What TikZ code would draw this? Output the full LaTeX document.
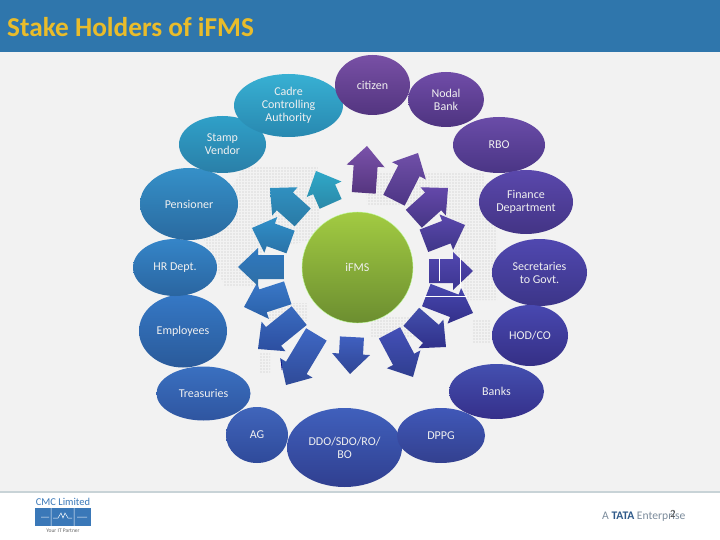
\documentclass[tikz,border=0pt]{standalone}
\usepackage{fontspec}
\setmainfont{Carlito}
\usetikzlibrary{shapes.geometric,patterns.meta}
\definecolor{headerblue}{HTML}{2F76AC}
\definecolor{titlegold}{HTML}{E9BC2B}
\definecolor{logoblue}{HTML}{3A78B8}
\definecolor{tatagrey}{HTML}{7C8C9C}
\definecolor{tatanavy}{HTML}{2F5A8A}
\tikzset{
    holder/.style={ellipse,shade,inner sep=0pt,align=center,text=white!94!black,font=\fontsize{12}{13}\selectfont},
    hub/.style={circle,shade,draw=lime!50!green!40!white,line width=0.4pt,inner sep=0pt,text=white!94!black,font=\fontsize{12}{13}\selectfont},
    mapdots/.style={pattern={Dots[radius=0.85pt,distance=3pt]},pattern color=black!14},
    blockarrow/.style={shade,draw=none}
}
\begin{document}
\begin{tikzpicture}[x=1pt,y=-1pt]
    \useasboundingbox (0,0) rectangle (720,540);
    % slide background, header and footer
    \fill [black!5] (0,0) rectangle (720,540);
    \fill [headerblue] (0,0) rectangle (720,52);
    \fill [fill=white] (0,492) rectangle (720,540);
    \fill [fill=cyan!30!black!25] (0,491) rectangle (720,493);
    \node (title) [anchor=west,inner sep=0pt,text=titlegold,font=\fontsize{27.3}{29}\selectfont\bfseries] at (7,27) {Stake Holders of iFMS};
    % world map behind the arrows
    \path [mapdots] (243,167) -- (318,167) -- (320,240) -- (262,248) -- (258,287) -- (225,287) -- (204,240) -- cycle;
    \path [mapdots] (268,303) -- (307,303) -- (307,320) -- (268,320) -- cycle;
    \path [mapdots] (260,353) -- (270,353) -- (270,373) -- (260,373) -- cycle;
    \path [mapdots] (365,172) -- (483,172) -- (497,232) -- (497,300) -- (467,300) -- (440,205) -- (367,205) -- cycle;
    \path [mapdots] (473,320) -- (490,320) -- (490,343) -- (473,343) -- cycle;
    \path [mapdots] (370,317) -- (417,317) -- (417,337) -- (370,337) -- cycle;
    % arrows around the hub: tip x, tip y, direction, length, top colour, bottom colour
    \foreach \tx/\ty/\dir/\len/\ct/\cb in {
        367/146/86/47/7A52AA/55357F,
        418/153/63/53/7050A8/4D3585,
        448/188/42/46/6448AA/453584,
        465/225/21/44/5A48AC/3F3588,
        473/271/0/44/5248B0/3C3590,
        473/313/-21/50/4848B0/33308A,
        446/347/-41/46/4350AD/30308A,
        413/377/-62/50/4450B8/2F3E8F,
        350/374/-93/37/4060C0/2F4594,
        286/385/-121/59/3F68C4/2F4A98,
        258/349/-141/53/3A6CC0/2C4EA0,
        244/307/198/46/3A78C8/2A60A8,
        238/267/180/46/2F78C0/2F6FA5,
        252/228/160/41/3090C8/2A72A8,
        270/188/138/44/3090C0/2A7AA5,
        316/171/114/36/30A8C8/2A88A8} {
        \definecolor{arrowtop}{HTML}{\ct}
        \definecolor{arrowbottom}{HTML}{\cb}
        \path [blockarrow,top color=arrowtop,bottom color=arrowbottom,shift={(\tx,\ty)},rotate=\dir]
            (0,0) -- (-20,19) -- (-20,12) -- (-\len,12) -- (-\len,-12) -- (-20,-12) -- (-20,-19) -- cycle;
    }
    \draw [white,line width=0.6pt] (439.5,258) -- (439.5,281) (460,254) -- (460,288) (424,296) -- (467,296);
    \draw [black!50!blue,line width=0.6pt] (281,360) -- (282,370);
    % stake holders
    \foreach \nm/\cx/\cy/\rx/\ry/\ct/\cb/\lbl in {
        employees/183/331/44/36.5/3578C5/2A5A9A/Employees,
        hr/175/267.5/42/28.5/3585C8/2A65A0/HR Dept.,
        pensioner/189/204/49/36/3590C8/2A6AA0/Pensioner,
        stamp/222.5/144.5/43.5/28.5/2FA0C8/2A7FA8/{Stamp\\Vendor},
        cadre/288.5/105.5/54.5/31.5/38B0D3/2888B0/{Cadre\\Controlling\\Authority},
        nodal/446/99.5/38/27.5/704CA8/4E3480/{Nodal\\Bank},
        citizen/372.5/85/37.5/30/7850A5/533580/{citizen},
        rbo/499/145/46/28/6A4CA8/4A3585/RBO,
        finance/526/202/47/32/5A48AC/433485/{Finance\\Department},
        secretaries/539.5/272.5/47.5/33.5/5048B0/3C3588/{Secretaries\\to Govt.},
        hod/530/335.5/38/30.5/4848B0/352F85/{HOD/CO},
        banks/496.5/391.5/47.5/27.5/4450B0/352F8A/Banks,
        treasuries/203.5/393.5/47/27/3A70C0/2F55A0/Treasuries,
        ag/257/435/31/28/4065BB/2F4A9A/AG,
        ddo/344.5/447.5/57.5/39.5/4060BC/303F90/{DDO/SDO/RO/\\BO},
        dppg/441/435.5/44/27.5/4058B8/33408F/DPPG} {
        \definecolor{holdertop}{HTML}{\ct}
        \definecolor{holderbottom}{HTML}{\cb}
        \node (\nm) [holder,top color=holdertop,bottom color=holderbottom,minimum width=2*\rx pt,minimum height=2*\ry pt] at (\cx,\cy) {\lbl};
    }
    \definecolor{hubtop}{HTML}{A2CB42}
    \definecolor{hubbottom}{HTML}{6C8E30}
    \node (hub) [hub,top color=hubtop,bottom color=hubbottom,minimum size=111pt] at (357.5,267.5) {iFMS};
    % footer marks
    \node (cmc) [text=logoblue,font=\fontsize{10.5}{12}\selectfont] at (63,502) {CMC Limited};
    \fill [logoblue] (35,508) rectangle (91,526);
    \draw [white,line width=0.5pt] (51,508) -- (51,526) (74,508) -- (74,526) (41,517) -- (49,517) (77,517) -- (87,517)
        (53,518) -- (58,518) -- (61,513) -- (63,518) -- (65,513) -- (68,518) -- (72,518);
    \node (partner) [text=black!60,font=\fontsize{5.5}{6}\selectfont] at (63,531) {Your IT Partner};
    \node (tata) [anchor=west,inner sep=0pt,text=tatagrey,font=\fontsize{11.6}{13}\selectfont] at (602,516) {A \textbf{\textcolor{tatanavy}{TATA}} Enterprise};
    \node (page) [text=black!70,font=\fontsize{11}{12}\selectfont] at (673,514) {2};
\end{tikzpicture}
\end{document}
